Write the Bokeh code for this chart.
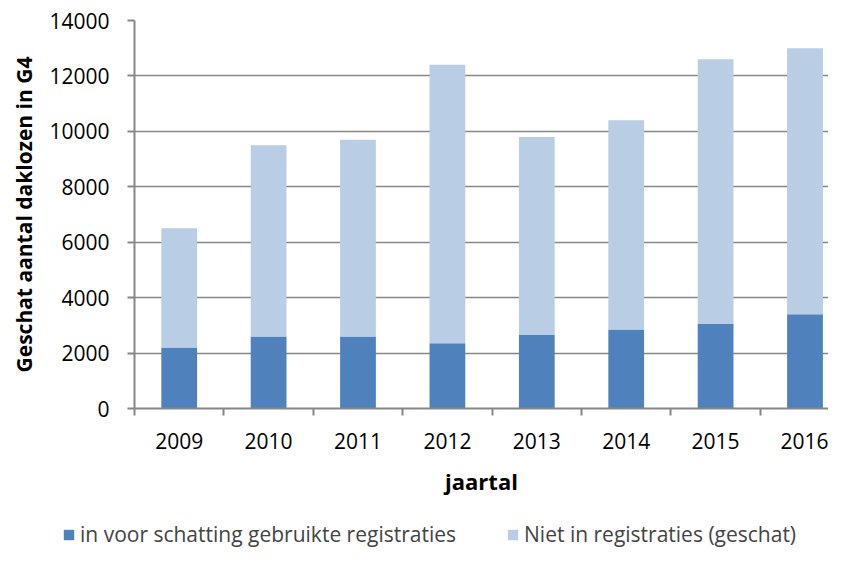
from bokeh.plotting import figure
from bokeh.layouts import column
from bokeh.models import Range1d, FixedTicker, Legend, LegendItem, ColumnDataSource
from bokeh.embed import file_html
from bokeh.resources import INLINE

years = ["2009", "2010", "2011", "2012", "2013", "2014", "2015", "2016"]
registered = [2200, 2600, 2600, 2350, 2650, 2850, 3050, 3400]
total = [6500, 9500, 9700, 12400, 9800, 10400, 12600, 13000]
not_registered = [t - r for t, r in zip(total, registered)]
series_names = ["in voor schatting gebruikte registraties", "Niet in registraties (geschat)"]
series_colors = ["#4F81BD", "#B9CDE5"]
y_ticks = [0, 2000, 4000, 6000, 8000, 10000, 12000, 14000]

xs = [i + 1 for i in range(len(years))]
src = ColumnDataSource(dict(x=xs, reg=registered, notreg=not_registered))

FONT = "Open Sans"
GREY = "#878787"

p = figure(width=828, height=508, output_backend="svg", toolbar_location=None,
           x_range=Range1d(0.5, 0.5 + 694 / 89.4), y_range=Range1d(0, 14000),
           min_border_left=134, min_border_right=0, min_border_top=20, min_border_bottom=100)
p.outline_line_color = None
p.background_fill_color = "white"
p.frame_align = False

r = p.vbar_stack(["reg", "notreg"], x="x", width=0.4, source=src,
                 color=series_colors, line_color=None)

# x axis
p.xaxis.ticker = FixedTicker(ticks=xs, minor_ticks=[x - 0.5 for x in xs] + [xs[-1] + 0.5])
p.xaxis.major_label_overrides = {x: y for x, y in zip(xs, years)}
p.xaxis.major_tick_out = 0
p.xaxis.major_tick_in = 0
p.xaxis.minor_tick_out = 7
p.xaxis.minor_tick_in = 0
p.xaxis.minor_tick_line_color = GREY
p.xaxis.minor_tick_line_width = 2
p.xaxis.axis_line_color = GREY
p.xaxis.axis_line_width = 2
p.xaxis.major_label_standoff = 17
p.xaxis.major_label_text_font = FONT
p.xaxis.major_label_text_font_size = "21px"
p.xaxis.major_label_text_color = "black"
p.xaxis.axis_label = "jaartal"
p.xaxis.axis_label_text_font = FONT
p.xaxis.axis_label_text_font_size = "22px"
p.xaxis.axis_label_text_font_style = "bold"
p.xaxis.axis_label_text_color = "black"
p.xaxis.axis_label_standoff = 14
p.xgrid.grid_line_color = None

# y axis
p.yaxis.ticker = FixedTicker(ticks=y_ticks)
p.yaxis.minor_tick_line_color = None
p.yaxis.major_tick_out = 7
p.yaxis.major_tick_in = 0
p.yaxis.major_tick_line_color = GREY
p.yaxis.major_tick_line_width = 2
p.yaxis.axis_line_color = GREY
p.yaxis.axis_line_width = 2
p.yaxis.major_label_standoff = 18
p.yaxis.major_label_text_font = FONT
p.yaxis.major_label_text_font_size = "21px"
p.yaxis.major_label_text_color = "black"
p.yaxis.axis_label = "Geschat aantal daklozen in G4"
p.yaxis.axis_label_text_font = FONT
p.yaxis.axis_label_text_font_size = "21px"
p.yaxis.axis_label_text_font_style = "bold"
p.yaxis.axis_label_text_color = "black"
p.yaxis.axis_label_standoff = 8
p.ygrid.ticker = FixedTicker(ticks=y_ticks)
p.ygrid.grid_line_color = GREY
p.ygrid.grid_line_width = 1.5

# legend strip below the chart (same series, drawn out of view; only the legend shows)
lp = figure(width=828, height=40, output_backend="svg", toolbar_location=None,
            x_range=Range1d(0.5, 8.5), y_range=Range1d(-1000000, -999999),
            x_axis_type=None, y_axis_type=None,
            min_border_left=0, min_border_right=0, min_border_top=0, min_border_bottom=0)
lp.outline_line_color = None
lp.frame_align = False
swatches = lp.vbar_stack(["reg", "notreg"], x="x", width=0.001, source=src,
                         color=series_colors, line_color=None)
legend = Legend(items=[LegendItem(label=n, renderers=[s]) for n, s in zip(series_names, swatches)],
                orientation="horizontal", location=(62, 0),
                glyph_width=13, glyph_height=13, label_text_font=FONT,
                label_text_font_size="21px", label_standoff=5, spacing=50,
                padding=0, margin=0, border_line_color=None, background_fill_alpha=0)
lp.add_layout(legend, "center")

open("out.html", "w").write(file_html(column(p, lp, spacing=0), INLINE))
